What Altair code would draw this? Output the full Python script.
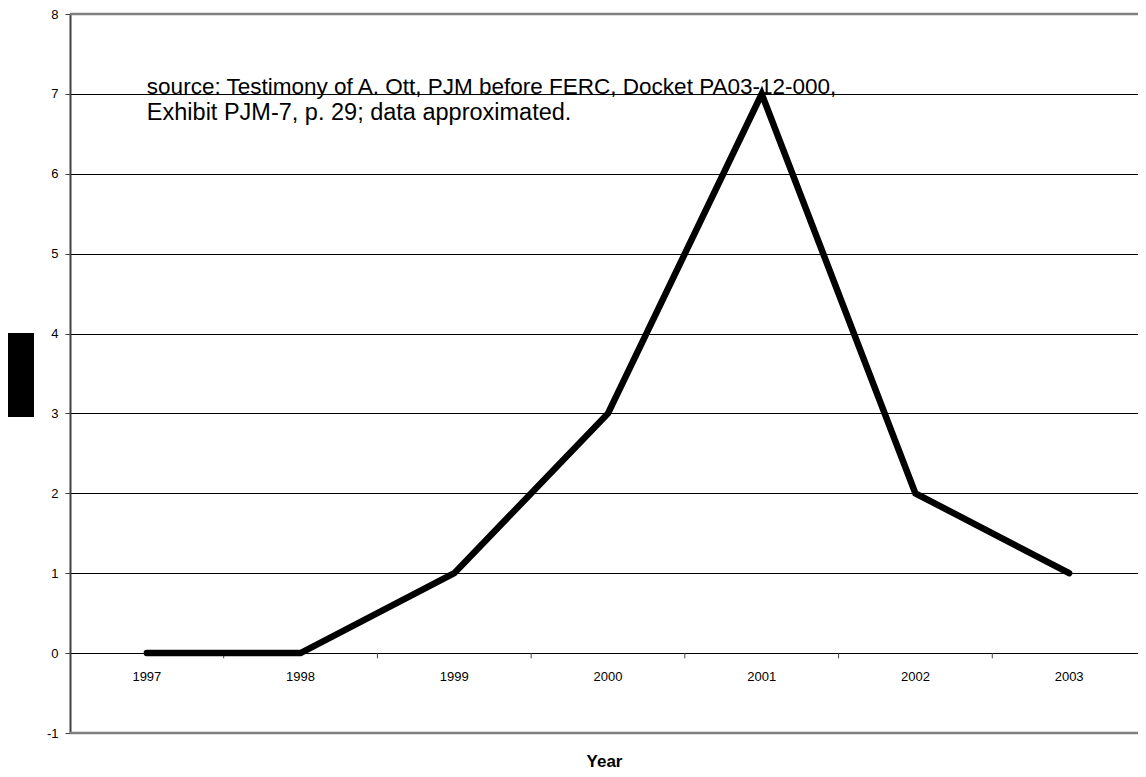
import altair as alt
import pandas as pd

years = [1997, 1998, 1999, 2000, 2001, 2002, 2003]
values = [0, 0, 1, 3, 7, 2, 1]
y_ticks = [-1, 0, 1, 2, 3, 4, 5, 6, 7, 8]
band_edges = [1997.5, 1998.5, 1999.5, 2000.5, 2001.5, 2002.5]
source_lines = [
    "source:  Testimony of A. Ott, PJM before FERC, Docket PA03-12-000,",
    "Exhibit PJM-7, p. 29; data approximated.",
]
source_y = [7.0, 6.67]
source_size = [22.5, 23.5]
border_y = [8, -1]

FONT = "Arial, Liberation Sans, sans-serif"

df = pd.DataFrame({"year": years, "value": values})
# plot area is cut at the right edge of the page, as in the original
xs = alt.Scale(domain=[1996.5, 2003.448], nice=False, zero=False)
ys = alt.Scale(domain=[-1, 8], nice=False, zero=False)

x_enc = alt.X("year:Q", scale=xs,
              axis=alt.Axis(title="Year", labels=False, ticks=False, domain=False,
                            grid=False, titleFont=FONT, titleFontSize=17,
                            titleFontWeight="bold", titleColor="black",
                            titlePadding=20))
y_enc = alt.Y("value:Q", scale=ys,
              axis=alt.Axis(title=None, values=y_ticks, grid=True, gridColor="black",
                            gridWidth=1, gridOpacity=1, domainColor="#404040",
                            domainWidth=2, tickColor="#404040", tickSize=5,
                            labelFont=FONT, labelFontSize=13, labelColor="black",
                            labelPadding=7, labelExpr="datum.value + ''"))

base = alt.Chart(df)

line = base.mark_line(color="black", strokeWidth=6.5, strokeCap="round").encode(x=x_enc, y=y_enc)

year_labels = base.mark_text(font=FONT, fontSize=13, color="black", dy=24,
                             baseline="middle").encode(
    x=alt.X("year:Q", scale=xs), y=alt.datum(0), text=alt.Text("year:N"))

edge_df = pd.DataFrame({"edge": band_edges, "y0": [0] * 6, "y1": [-0.065] * 6})
edge_ticks = alt.Chart(edge_df).mark_rule(color="#404040", strokeWidth=1).encode(
    x=alt.X("edge:Q", scale=xs), y=alt.Y("y0:Q", scale=ys), y2="y1:Q")

border_df = pd.DataFrame({"b": border_y})
borders = alt.Chart(border_df).mark_rule(color="#808080", strokeWidth=2.5).encode(
    y=alt.Y("b:Q", scale=ys))

src_df = pd.DataFrame({"t": source_lines, "y": source_y, "x": [1997, 1997],
                       "fs": source_size})
source = alt.Chart(src_df).mark_text(font=FONT, color="black",
                                     align="left", baseline="alphabetic").encode(
    x=alt.X("x:Q", scale=xs), y=alt.Y("y:Q", scale=ys), text="t:N",
    size=alt.Size("fs:Q", scale=None, legend=None))

box = alt.Chart(pd.DataFrame({"k": [0]})).mark_rect(color="black").encode(
    x=alt.value(-63), x2=alt.value(-36), y=alt.value(319), y2=alt.value(403))

chart = alt.layer(borders, edge_ticks, line, year_labels, source, box).properties(
    width=1068, height=719,
    autosize=alt.AutoSizeParams(type="none"),
    padding={"left": 62, "top": 6, "right": 0, "bottom": 36},
).configure_view(stroke=None).configure(background="white")

chart.save("out.html", embed_options={"renderer": "svg", "actions": False})
